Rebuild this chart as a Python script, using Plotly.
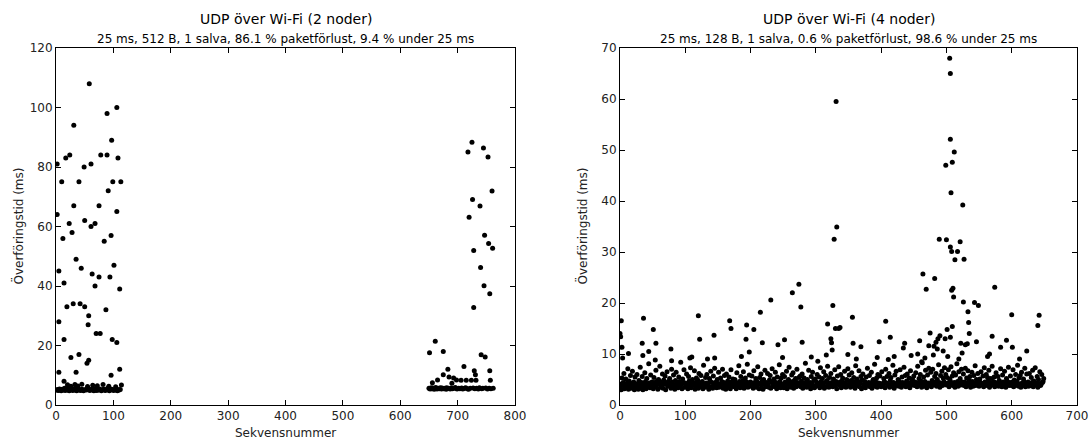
import plotly.graph_objects as go

# ---------------- Left panel: UDP över Wi-Fi (2 noder) ----------------
left_high_seq = [2, 2, 5, 5, 5, 10, 12, 14, 14, 14, 17, 19, 23, 24, 26, 28, 30, 31, 31, 35, 35,
                 40, 40, 42, 44, 49, 50, 50, 54, 56, 57, 57, 58, 61, 61, 63, 68, 68, 70, 75, 75,
                 77, 78, 84, 87, 89, 89, 91, 94, 96, 96, 97, 98, 99, 101, 106, 106, 106, 108,
                 111, 111, 113, 20, 26, 33, 38, 45, 55, 64, 72, 82, 92, 104, 114]
left_high_delay = [81, 64, 45, 28, 11, 75, 56, 41, 22, 8, 83, 33, 61, 84, 16, 58, 34, 94, 67, 49, 11,
                   75, 17, 34, 46, 80, 62, 33, 14, 27, 30, 15, 108, 81, 60, 44, 61, 40, 24, 67, 43,
                   24, 84, 55, 32, 84, 98, 72, 43, 57, 10, 89, 22, 75, 47, 100, 65, 21, 83,
                   39, 12, 75, 6.8, 6.3, 6.9, 6.4, 7.0, 6.2, 6.6, 6.5, 6.9, 6.3, 6.1, 6.7]
left_base_seq = [1, 3, 4, 6, 8, 9, 11, 13, 15, 16, 18, 20, 21, 23, 25, 27, 29, 30, 32, 34, 36, 37,
                 39, 41, 43, 45, 46, 48, 51, 53, 55, 59, 60, 62, 65, 66, 67, 69, 71, 73, 74, 76,
                 79, 81, 83, 85, 86, 88, 90, 92, 93, 95, 97, 100, 102, 103, 105, 107, 109, 110, 112]
left_base_delay = [5.0, 5.2, 4.9, 5.4, 5.1, 4.8, 5.3, 5.0, 5.6, 4.9, 5.2, 5.0, 5.5, 4.8, 5.1, 5.3,
                   4.9, 5.2, 5.0, 5.7, 4.8, 5.1, 5.4, 5.0, 4.9, 5.3, 5.1, 4.8, 5.2, 5.0, 5.6, 4.9,
                   5.1, 5.3, 5.0, 4.8, 5.5, 5.1, 4.9, 5.2, 5.0, 5.4, 4.8, 5.1, 5.3, 5.0, 4.9, 5.2,
                   5.6, 5.0, 4.8, 5.1, 5.3, 4.9, 5.2, 5.0, 5.4, 4.8, 5.1, 5.0, 5.2]
late_seq = [651, 656, 661, 665, 675, 675, 683, 685, 690, 693, 698, 706, 711, 715, 718, 720, 724,
            725, 726, 728, 728, 729, 731, 732, 739, 740, 741, 745, 746, 747, 748, 753, 754, 756,
            756, 757, 760, 761]
late_delay = [17.6, 7.5, 21.4, 8.4, 18.0, 10.2, 12.0, 9.4, 7.3, 9.1, 8.4, 8.3, 12.9, 8.3, 85.0,
              63.1, 8.3, 88.3, 69.1, 51.9, 32.8, 11.5, 10.2, 8.3, 66.9, 46.2, 16.9, 86.4, 40.1,
              57.1, 16.1, 83.4, 54.3, 37.4, 11.5, 8.3, 71.9, 52.7]
late_base_seq = [650, 652, 654, 655, 657, 659, 660, 662, 664, 666, 668, 670, 672, 673, 676, 678,
                 680, 681, 684, 687, 689, 691, 694, 696, 699, 702, 704, 707, 709, 712, 714, 717,
                 719, 722, 727, 730, 733, 736, 738, 742, 744, 749, 752, 755, 758, 762]
late_base_delay = [5.6, 5.4, 5.8, 5.5, 5.7, 5.3, 5.6, 5.9, 5.4, 5.6, 5.5, 5.8, 5.4, 5.7, 5.5, 5.6,
                   5.3, 5.8, 5.6, 5.4, 5.7, 5.5, 5.6, 5.9, 5.4, 5.6, 5.5, 5.7, 5.4, 5.6, 5.8, 5.5,
                   5.3, 5.6, 5.7, 5.5, 5.6, 5.4, 5.8, 5.5, 5.6, 5.7, 5.4, 5.6, 5.5, 5.6]

# ---------------- Right panel: UDP över Wi-Fi (4 noder) ----------------
right_base_delay = [
    3.4, 4.1, 3.0, 5.3, 3.8, 4.4, 6.2, 3.2, 4.0, 5.1, 3.6, 4.3, 7.1, 3.1, 4.7, 3.9, 5.8, 3.3, 4.2, 6.6, 3.7, 4.5, 3.0, 5.5, 4.0,
    3.5, 6.0, 4.2, 3.1, 4.8, 3.9, 7.4, 3.3, 4.4, 5.6, 3.0, 4.1, 3.7, 6.3, 4.6, 3.2, 5.2, 4.0, 3.6, 8.1, 4.3, 3.4, 5.9, 3.8, 4.5,
    4.0, 3.2, 5.4, 4.4, 3.6, 6.8, 3.9, 4.7, 3.1, 5.0, 4.2, 7.6, 3.5, 4.5, 3.8, 6.1, 3.3, 4.9, 4.1, 5.7, 3.0, 4.3, 6.5, 3.7, 4.6,
    3.8, 5.2, 4.1, 3.3, 7.0, 4.5, 3.6, 5.9, 4.0, 3.1, 4.8, 6.4, 3.9, 4.2, 3.4, 5.5, 4.6, 3.7, 8.4, 4.0, 3.2, 5.1, 4.4, 6.9, 3.5,
    4.3, 3.6, 6.1, 4.0, 3.2, 5.6, 4.7, 3.9, 7.3, 3.4, 4.5, 5.0, 3.8, 4.1, 6.7, 3.1, 4.4, 5.3, 3.7, 4.9, 3.3, 6.2, 4.2, 3.6, 5.8,
    3.9, 4.6, 3.2, 7.8, 4.1, 3.5, 5.4, 4.3, 6.0, 3.8, 4.0, 3.1, 5.2, 4.7, 6.6, 3.6, 4.4, 3.3, 5.7, 4.1, 7.2, 3.9, 4.5, 3.4, 5.0,
    4.2, 6.4, 3.5, 4.0, 5.3, 3.8, 4.6, 7.0, 3.3, 4.4, 5.8, 3.9, 3.1, 6.1, 4.3, 4.7, 3.6, 5.5, 4.0, 3.2, 6.9, 4.5, 3.7, 5.1, 4.1,
    3.6, 5.0, 4.4, 3.2, 6.3, 4.0, 3.8, 7.7, 4.6, 3.4, 5.6, 4.1, 3.9, 4.8, 6.5, 3.3, 4.2, 5.3, 3.7, 4.5, 8.0, 3.5, 4.3, 5.9, 3.9,
    4.5, 3.7, 5.7, 4.1, 3.3, 6.7, 4.4, 3.9, 5.2, 3.5, 4.6, 7.5, 4.0, 3.2, 5.4, 4.3, 6.1, 3.8, 4.7, 3.1, 5.0, 4.2, 6.8, 3.6, 4.4,
    3.8, 6.2, 4.0, 3.5, 4.9, 5.8, 3.3, 4.5, 7.1, 3.9, 4.2, 5.1, 3.6, 6.4, 4.4, 3.2, 5.5, 4.1, 3.7, 7.9, 4.6, 3.4, 5.3, 4.0, 6.0,
    4.1, 3.4, 5.6, 4.5, 3.9, 6.6, 3.2, 4.3, 5.0, 7.4, 3.7, 4.6, 3.5, 5.9, 4.0, 6.3, 3.3, 4.8, 4.2, 5.2, 3.6, 7.0, 4.4, 3.8, 5.4,
    4.0, 5.7, 3.6, 4.7, 6.1, 3.3, 4.2, 5.3, 3.9, 8.2, 4.5, 3.5, 5.0, 4.1, 6.8, 3.7, 4.4, 3.2, 5.6, 4.3, 6.4, 3.8, 4.9, 3.4, 5.1,
    3.7, 4.5, 6.0, 3.9, 4.2, 5.5, 3.4, 7.3, 4.6, 3.8, 5.2, 4.0, 6.5, 3.3, 4.4, 5.8, 3.6, 4.8, 7.6, 4.1, 3.5, 5.4, 4.3, 6.2, 3.9,
    4.4, 3.6, 5.1, 4.0, 6.9, 3.8, 4.6, 3.2, 5.7, 4.2, 7.5, 3.9, 4.5, 6.0, 3.4, 4.7, 5.3, 4.1, 3.7, 6.6, 4.3, 3.5, 5.0, 4.8, 7.1,
    3.9, 5.9, 4.2, 3.5, 4.8, 6.3, 4.0, 3.7, 5.4, 4.5, 3.3, 7.7, 4.1, 5.1, 3.8, 4.6, 6.7, 3.6, 4.3, 5.6, 3.2, 4.9, 6.1, 4.0, 3.8,
    4.6, 3.4, 5.5, 4.2, 7.2, 3.9, 4.4, 5.8, 3.6, 4.1, 6.4, 3.3, 4.7, 5.0, 4.0, 8.0, 3.7, 4.5, 5.3, 3.5, 6.0, 4.3, 3.9, 5.7, 4.2,
    3.6, 6.5, 4.1, 3.8, 5.2, 4.6, 3.4, 7.0, 4.3, 5.6, 3.9, 4.0, 6.2, 3.5, 4.8, 5.4, 4.2, 3.7, 7.8, 4.4, 3.3, 5.9, 4.1, 6.6, 3.8,
    4.3, 5.0, 3.7, 4.6, 6.9, 4.0, 3.5, 5.5, 4.4, 3.9, 7.4, 4.2, 5.8, 3.6, 4.7, 6.1, 3.8, 4.1, 5.3, 3.4, 6.7, 4.5, 3.9, 5.1, 4.0,
    5.7, 3.8, 4.5, 6.3, 4.1, 3.6, 7.6, 4.4, 5.2, 3.9, 6.0, 4.7, 3.5, 8.3, 4.2, 5.5, 3.7, 4.6, 6.8, 4.0, 3.4, 5.9, 4.3, 7.2, 3.8,
    4.1, 6.4, 3.6, 4.8, 7.0, 4.3, 3.9, 5.6, 4.5, 6.2, 3.7, 5.0, 4.0, 7.9, 4.4, 3.5, 5.8, 4.2, 6.6, 3.8, 5.3, 4.6, 7.3, 4.1, 6.0,
    3.9, 5.4, 4.3, 6.9, 3.6, 5.1, 4.7, 7.5, 4.0, 5.7, 3.8, 6.3, 4.4, 3.5, 5.9, 4.2, 8.1, 4.6, 3.7, 6.5, 4.1, 5.2, 3.9, 7.0, 4.5,
    4.0, 6.1, 3.8, 4.5, 7.2, 3.6, 5.3, 4.3, 6.7, 3.9, 4.8, 5.6, 3.5, 4.2, 6.4, 4.6, 3.7, 5.8, 4.1, 7.7, 3.8, 5.0, 4.4, 6.2, 4.0,
    3.7, 5.1, 4.4, 6.5, 3.9, 4.2, 5.7, 3.6, 7.3, 4.5, 4.0, 6.0, 3.8, 5.4, 4.7, 6.8, 3.5, 4.3, 5.2, 4.1, 7.6, 3.9, 4.6, 5.5, 3.6,
    4.4, 6.3, 3.8, 4.1, 5.6, 3.7, 4.8, 4.0, 7.1, 4.3, 3.6, 5.9, 4.5, 3.9, 6.6, 4.2, 3.5, 5.2, 4.7, 4.0, 7.4, 3.8, 4.4, 5.7, 4.1,
    3.8, 4.5, 6.9, 3.6, 4.9, 4.2, 6.0, 3.9, 4.6, 7.8, 3.7, 5.3, 4.1, 5.8, 3.5, 6.4, 4.3, 3.9, 5.1, 4.6, 7.2, 3.6, 4.2, 6.1, 4.0,
    4.5, 3.7, 6.2, 4.0, 3.8, 5.4, 4.4, 6.8, 3.6, 4.7, 4.1, 7.3, 3.9, 4.3, 5.6, 3.5, 5.0, 4.2, 6.5, 3.8, 4.0, 6.0, 4.4, 4.6, 5.2,
]
right_base_seq = list(range(len(right_base_delay)))

right_spike_seq = [0, 1, 2, 3, 4, 13, 34, 35, 36, 44, 51, 54, 55, 78, 79, 107, 110, 120, 122, 134,
                   144, 145, 168, 170, 186, 193, 194, 198, 205, 215, 218, 231, 242, 249, 252, 264,
                   274, 277, 279, 293, 303, 316, 318, 323, 324, 325, 326, 328, 330, 331, 332, 335,
                   337, 349, 356, 357, 362, 369, 394, 397, 407, 411, 414, 420, 434, 436, 446, 456,
                   459, 462, 464, 467, 469, 473, 475, 480, 481, 482, 484, 486, 487, 489, 490, 495,
                   498, 499, 500, 501, 502, 506, 505, 506, 506, 512, 509, 507, 525, 521, 506, 508,
                   517, 513, 527, 508, 510, 511, 526, 509, 519, 522, 524, 529, 532, 533, 534, 535,
                   543, 546, 549, 563, 566, 570, 574, 583, 592, 600, 601, 612, 623, 640, 642]
right_spike_delay = [14.0, 13.4, 16.5, 11.3, 9.2, 10.1, 12.1, 9.7, 17.0, 10.5, 14.8, 8.8, 12.1, 11.0,
                     8.7, 9.2, 9.4, 17.5, 12.9, 9.0, 13.7, 9.2, 16.5, 15.0, 9.5, 12.9, 15.7, 10.4,
                     14.8, 18.2, 12.2, 20.6, 11.8, 9.3, 12.8, 22.0, 23.7, 19.2, 12.3, 9.4, 8.6, 9.8,
                     15.9, 13.0, 12.2, 10.8, 19.5, 32.5, 15.0, 59.5, 34.9, 15.0, 15.2, 9.9, 17.2,
                     12.1, 9.0, 11.4, 9.3, 12.4, 16.4, 8.9, 13.3, 9.5, 11.2, 12.1, 9.7, 10.0, 12.6,
                     8.5, 25.7, 9.2, 22.7, 11.6, 14.1, 9.8, 11.5, 24.8, 12.3, 11.0, 13.0, 32.5, 13.6,
                     10.6, 13.0, 47.0, 32.4, 14.8, 9.5, 13.3, 68.0, 65.0, 52.1, 49.6, 47.6, 41.6,
                     39.2, 32.0, 31.0, 30.1, 30.1, 28.5, 28.6, 22.5, 22.9, 21.2, 20.2, 15.4, 9.0,
                     12.1, 10.2, 11.8, 12.0, 18.3, 16.2, 14.0, 20.1, 12.4, 19.5, 9.5, 10.0, 13.5,
                     23.1, 11.3, 12.7, 17.7, 11.3, 9.0, 10.6, 15.6, 17.6]

left_title = "UDP över Wi-Fi (2 noder)"
left_subtitle = "25 ms, 512 B, 1 salva, 86.1 % paketförlust, 9.4 % under 25 ms"
right_title = "UDP över Wi-Fi (4 noder)"
right_subtitle = "25 ms, 128 B, 1 salva, 0.6 % paketförlust, 98.6 % under 25 ms"
x_label = "Sekvensnummer"
y_label = "Överföringstid (ms)"

W, H = 1092, 440
FONT = "DejaVu Sans"
marker = dict(color="black", size=5, line=dict(width=0))

fig = go.Figure()
fig.add_trace(go.Scatter(x=left_base_seq + left_high_seq + late_base_seq + late_seq,
                         y=left_base_delay + left_high_delay + late_base_delay + late_delay,
                         mode="markers", marker=marker, xaxis="x", yaxis="y", showlegend=False))
fig.add_trace(go.Scatter(x=right_base_seq + right_spike_seq,
                         y=right_base_delay + right_spike_delay,
                         mode="markers", marker=marker, xaxis="x2", yaxis="y2", showlegend=False))

# plot areas in pixels
L = (56, 515)
R = (620, 1077)
TOP, BOT = 48, 405
ydom = [(H - BOT) / H, (H - TOP) / H]

axis_common = dict(showline=True, linecolor="black", linewidth=1, mirror="ticks",
                   ticks="inside", ticklen=5, tickwidth=1, tickcolor="black",
                   showgrid=False, zeroline=False,
                   tickfont=dict(family=FONT, size=12, color="#222"), automargin=False)

fig.update_layout(
    width=W, height=H,
    margin=dict(l=0, r=0, t=0, b=0),
    paper_bgcolor="white", plot_bgcolor="white",
    xaxis=dict(domain=[L[0] / W, L[1] / W], range=[0, 800], dtick=100, anchor="y", **axis_common),
    yaxis=dict(domain=ydom, range=[0, 120], dtick=20, anchor="x", **axis_common),
    xaxis2=dict(domain=[R[0] / W, R[1] / W], range=[0, 700], dtick=100, anchor="y2", **axis_common),
    yaxis2=dict(domain=ydom, range=[0, 70], dtick=10, anchor="x2", **axis_common),
)

anns = []
for (x0, x1), t, s, ylab_x in [(L, left_title, left_subtitle, 17), (R, right_title, right_subtitle, 581)]:
    cx = (x0 + x1) / 2 / W
    anns.append(dict(x=cx, y=1 - 19 / H, xref="paper", yref="paper", text=t, showarrow=False,
                     font=dict(family=FONT, size=14, color="black"), xanchor="center", yanchor="middle"))
    anns.append(dict(x=cx, y=1 - 39 / H, xref="paper", yref="paper", text=s, showarrow=False,
                     font=dict(family=FONT, size=12, color="black"), xanchor="center", yanchor="middle"))
    anns.append(dict(x=cx, y=1 - 433 / H, xref="paper", yref="paper", text=x_label, showarrow=False,
                     font=dict(family=FONT, size=12, color="#222"), xanchor="center", yanchor="middle"))
    anns.append(dict(x=ylab_x / W, y=1 - (TOP + BOT) / 2 / H, xref="paper", yref="paper", text=y_label,
                     showarrow=False, textangle=-90,
                     font=dict(family=FONT, size=12, color="#222"), xanchor="center", yanchor="middle"))
fig.update_layout(annotations=anns)

fig.write_html("out.html", config={"displayModeBar": False},
               post_script="document.body.style.margin='0';document.body.style.overflow='hidden';")
